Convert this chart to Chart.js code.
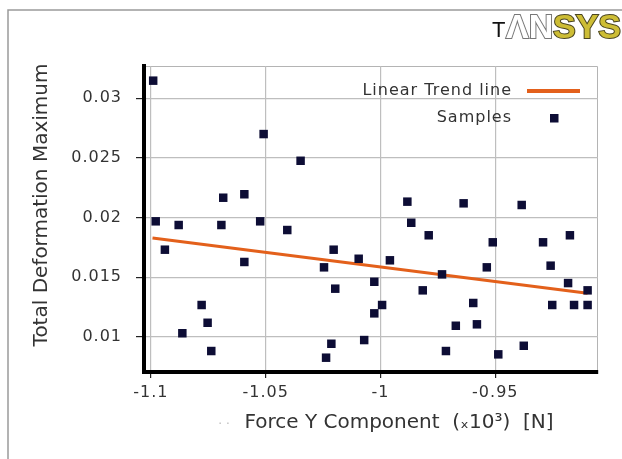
<!DOCTYPE html>
<html>
<head>
<meta charset="utf-8">
<script src="https://cdn.jsdelivr.net/npm/chart.js@4/dist/chart.umd.min.js"></script>
<style>
  body { margin: 0; background: #fff; }
  canvas { display: block; }
</style>
</head>
<body>
<canvas id="canvas" width="622" height="459"></canvas>
<script>
// sample values
const forceY = [-1.0990, -1.0509, -1.0348, -1.0685, -1.0593, -1.0979, -1.0879, -1.0693, -1.0524, -1.0406,
  -1.0939, -1.0593, -1.0204, -1.0095, -1.0246, -1.0027, -1.0197, -1.0779, -1.0753, -1.0863,
  -1.0027, -0.9993, -1.0737, -1.0214, -1.0071, -1.0237, -0.9883, -0.9638, -0.9385, -0.9866,
  -0.9790, -0.9511, -0.9292, -0.9175, -0.9959, -0.9537, -0.9259, -0.9732, -0.9816, -0.9183,
  -0.9098, -0.9596, -0.9252, -0.9157, -0.9098, -0.9672, -0.9580, -0.9715, -0.9487, -0.9376];
const deformation = [0.03148, 0.02700, 0.02476, 0.02166, 0.02195, 0.01968, 0.01937, 0.01937, 0.01968, 0.01895,
  0.01730, 0.01627, 0.01730, 0.01654, 0.01582, 0.01461, 0.01403, 0.01266, 0.01117, 0.01029,
  0.01196, 0.01266, 0.00880, 0.00941, 0.00972, 0.00824, 0.02133, 0.02119, 0.02105, 0.01956,
  0.01851, 0.01792, 0.01792, 0.01851, 0.01641, 0.01582, 0.01596, 0.01523, 0.01389, 0.01450,
  0.01389, 0.01283, 0.01266, 0.01266, 0.01266, 0.01092, 0.01104, 0.00880, 0.00852, 0.00924];

const trendX = [-1.0993, -0.9098];
const trendY = [0.01828, 0.01364];

const xTicks = [-1.1, -1.05, -1, -0.95];
const yTicks = [0.01, 0.015, 0.02, 0.025, 0.03];

const xTitle = 'Force Y Component  (\u209310\u00b3)  [N]';
const yTitle = 'Total Deformation Maximum';

const toPoints = (xs, ys) => xs.map((x, i) => ({x: x, y: ys[i]}));
const fmt = v => String(Math.round(v * 10000) / 10000);

// frame, logo, axis titles, legend
const decor = {
  id: 'decor',
  beforeDraw(chart) {
    const ctx = chart.ctx;
    const a = chart.chartArea;
    ctx.save();
    ctx.fillStyle = '#fff';
    ctx.fillRect(0, 0, chart.width, chart.height);
    // old window frame
    ctx.strokeStyle = '#9a9a9a';
    ctx.lineWidth = 1.5;
    ctx.beginPath();
    ctx.moveTo(8, 459);
    ctx.lineTo(8, 10);
    ctx.lineTo(622, 10);
    ctx.stroke();
    // plot box top and right
    ctx.strokeStyle = '#b4b4b4';
    ctx.lineWidth = 1;
    ctx.beginPath();
    ctx.moveTo(a.left, a.top + 0.5);
    ctx.lineTo(a.right - 0.5, a.top + 0.5);
    ctx.lineTo(a.right - 0.5, a.bottom);
    ctx.stroke();
    // logo
    ctx.textBaseline = 'alphabetic';
    ctx.textAlign = 'left';
    ctx.fillStyle = '#111';
    ctx.font = '22px "Liberation Sans"';
    ctx.fillText('T', 492, 37);
    ctx.font = 'bold 34px "Liberation Sans"';
    ctx.lineWidth = 2;
    ctx.strokeStyle = '#777';
    ctx.fillStyle = '#fff';
    ctx.strokeText('\u039bN', 506, 38);
    ctx.fillText('\u039bN', 506, 38);
    ctx.strokeStyle = '#4a4520';
    ctx.fillStyle = '#cdbd35';
    ctx.strokeText('SYS', 553, 38);
    ctx.fillText('SYS', 553, 38);
    ctx.restore();
    ctx.letterSpacing = '1px';
  },
  afterDraw(chart) {
    const ctx = chart.ctx;
    const ds = chart.data.datasets;
    ctx.save();
    ctx.letterSpacing = '0px';
    ctx.fillStyle = '#333';
    ctx.font = '20px "DejaVu Sans"';
    ctx.textBaseline = 'middle';
    ctx.textAlign = 'center';
    ctx.fillText(xTitle, 399, 423);
    ctx.fillStyle = '#bbb';
    ctx.font = '12px "DejaVu Sans"';
    ctx.fillText('\u00b7 \u00b7', 224, 425);
    ctx.save();
    ctx.translate(42, 205);
    ctx.rotate(-Math.PI / 2);
    ctx.fillStyle = '#333';
    ctx.font = '20px "DejaVu Sans"';
    ctx.fillText(yTitle, 0, 0);
    ctx.restore();
    // legend: text on the left, symbol on the right
    ctx.letterSpacing = '1px';
    ctx.font = '16px "DejaVu Sans"';
    ctx.textAlign = 'right';
    ctx.fillStyle = '#333';
    ctx.fillText(ds[0].label, 512, 91);
    ctx.fillText(ds[1].label, 512, 118);
    ctx.strokeStyle = ds[0].borderColor;
    ctx.lineWidth = 4;
    ctx.beginPath();
    ctx.moveTo(527, 91);
    ctx.lineTo(580, 91);
    ctx.stroke();
    ctx.fillStyle = ds[1].backgroundColor;
    ctx.fillRect(550, 114, 8.5, 8.5);
    ctx.restore();
  }
};

new Chart(document.getElementById('canvas').getContext('2d'), {
  type: 'scatter',
  data: {
    datasets: [{
      label: 'Linear Trend line',
      data: toPoints(trendX, trendY),
      showLine: true,
      borderColor: '#e3601b',
      borderWidth: 3,
      pointRadius: 0,
      order: 2
    }, {
      label: 'Samples',
      data: toPoints(forceY, deformation),
      pointStyle: 'rect',
      pointRadius: 6,
      pointBorderWidth: 0,
      backgroundColor: '#0d0d35',
      borderColor: '#0d0d35',
      order: 1
    }]
  },
  options: {
    responsive: false,
    devicePixelRatio: 1,
    animation: false,
    layout: { padding: { left: 0, top: 66, right: 24, bottom: 0 } },
    plugins: { legend: { display: false }, tooltip: { enabled: false } },
    scales: {
      x: {
        type: 'linear',
        min: -1.1030,
        max: -0.90527,
        afterFit: s => { s.height = 87; },
        afterBuildTicks: s => { s.ticks = xTicks.map(v => ({value: v})); },
        grid: { display: true, drawOnChartArea: true, color: 'rgb(190,190,190)', lineWidth: 1.2, tickColor: '#222', tickLength: 6 },
        border: { color: '#000', width: 4 },
        ticks: {
          color: '#333',
          padding: 5,
          maxRotation: 0,
          font: { family: 'DejaVu Sans', size: 16 },
          callback: v => fmt(v)
        }
      },
      y: {
        type: 'linear',
        min: 0.00704,
        max: 0.03271,
        afterFit: s => { s.width = 144; },
        afterBuildTicks: s => { s.ticks = yTicks.map(v => ({value: v})); },
        grid: { display: true, drawOnChartArea: true, color: 'rgb(190,190,190)', lineWidth: 1.2, tickColor: '#222', tickLength: 8 },
        border: { color: '#000', width: 4 },
        ticks: {
          color: '#333',
          padding: 14,
          font: { family: 'DejaVu Sans', size: 16 },
          callback: v => fmt(v)
        }
      }
    }
  },
  plugins: [decor]
});
</script>
</body>
</html>
